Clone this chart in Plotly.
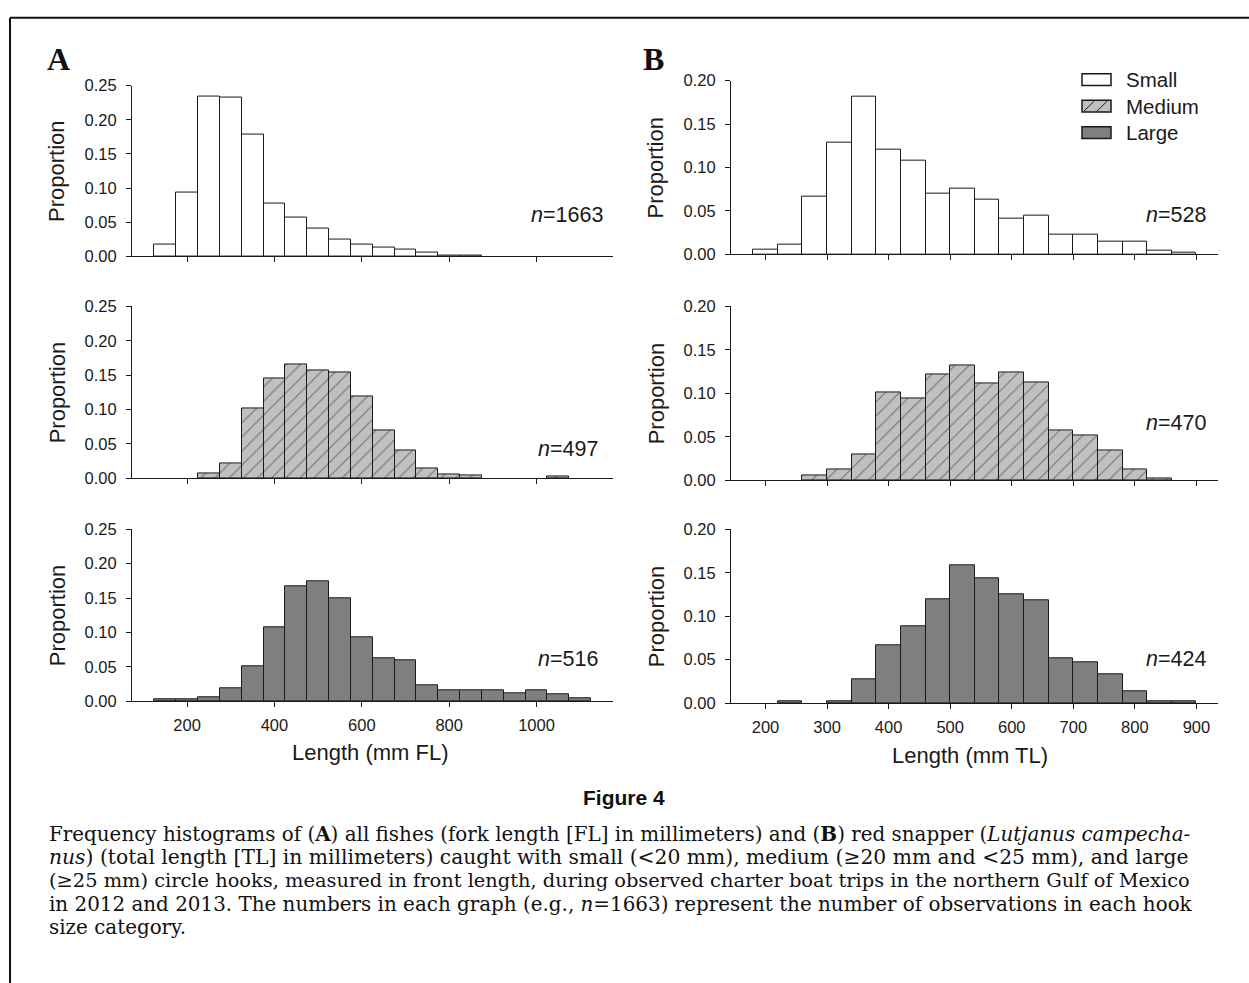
import plotly.graph_objects as go

# ---------------- data ----------------
A_centers = [150, 200, 250, 300, 350, 400, 450, 500, 550, 600,
             650, 700, 750, 800, 850, 900, 950, 1000, 1050, 1100]
A_small = [0.017, 0.093, 0.234, 0.233, 0.179, 0.078, 0.057, 0.040, 0.024, 0.017,
           0.013, 0.0095, 0.0057, 0.0015, 0.001, 0, 0, 0, 0, 0]
A_medium = [0, 0, 0.007, 0.021, 0.102, 0.145, 0.166, 0.157, 0.154, 0.119,
            0.069, 0.041, 0.0147, 0.006, 0.004, 0, 0, 0, 0.002, 0]
A_large = [0.002, 0.002, 0.006, 0.018, 0.050, 0.107, 0.167, 0.174, 0.150, 0.093,
           0.062, 0.060, 0.023, 0.015, 0.015, 0.015, 0.011, 0.015, 0.0095, 0.004]

B_centers = [200, 240, 280, 320, 360, 400, 440, 480, 520, 560,
             600, 640, 680, 720, 760, 800, 840, 880]
B_small = [0.005, 0.011, 0.066, 0.129, 0.182, 0.121, 0.108, 0.070, 0.076, 0.063,
           0.041, 0.045, 0.023, 0.023, 0.015, 0.015, 0.004, 0.002]
B_medium = [0, 0, 0.006, 0.0125, 0.030, 0.101, 0.094, 0.122, 0.132, 0.111,
            0.124, 0.113, 0.057, 0.051, 0.034, 0.0125, 0.002, 0]
B_large = [0, 0.002, 0, 0.002, 0.027, 0.066, 0.088, 0.120, 0.158, 0.144,
           0.125, 0.118, 0.0515, 0.047, 0.033, 0.014, 0.002, 0.002]

A_bin_width = 50
B_bin_width = 40

A_n = ["1663", "497", "516"]
B_n = ["528", "470", "424"]

A_xticks = [200, 400, 600, 800, 1000]
B_xticks = [200, 300, 400, 500, 600, 700, 800, 900]
A_yticks = [0.00, 0.05, 0.10, 0.15, 0.20, 0.25]
B_yticks = [0.00, 0.05, 0.10, 0.15, 0.20]
A_ytick_labels = ["0.00", "0.05", "0.10", "0.15", "0.20", "0.25"]
B_ytick_labels = ["0.00", "0.05", "0.10", "0.15", "0.20"]

legend_names = ["Small", "Medium", "Large"]

# ---------------- layout helpers ----------------
W, H = 1249, 983
def px(x):
    return x / W
def py(y):
    return 1 - y / H

SANS = "Liberation Sans, Arial, sans-serif"
SERIF = "DejaVu Serif, serif"
TXT = "#1a1a1a"

styles = {
    "Small": dict(color="white", line=dict(color="#1a1a1a", width=1)),
    "Medium": dict(color="#c0c0c0", line=dict(color="#1a1a1a", width=1),
                   pattern=dict(shape="/", fgcolor="#1a1a1a", bgcolor="#c0c0c0",
                                size=10, solidity=0.1)),
    "Large": dict(color="#7f7f7f", line=dict(color="#1a1a1a", width=1)),
}

# panel pixel boxes
A_x = (132, 613)
B_x = (731, 1218)
A_rows = [(78, 252), (303, 478), (530, 705)]
B_rows = [(73, 250), (303, 480), (530, 707)]
A_range = [74, 1175]
B_range = [144, 935]

fig = go.Figure()
layout = {}
annotations = []

def ann(text, x, y, size, family=SANS, xanchor="center", yanchor="middle", **kw):
    color = kw.pop("color", TXT)
    annotations.append(dict(text=text, x=px(x), y=py(y), xref="paper", yref="paper",
                            xanchor=xanchor, yanchor=yanchor, showarrow=False,
                            font=dict(family=family, size=size, color=color), **kw))

panels = []
for i, (vals, name) in enumerate(zip([A_small, A_medium, A_large], legend_names)):
    panels.append(("A", i, vals, name))
for i, (vals, name) in enumerate(zip([B_small, B_medium, B_large], legend_names)):
    panels.append(("B", i, vals, name))

for k, (side, row, vals, name) in enumerate(panels):
    idx = k + 1
    xa = "x" if idx == 1 else f"x{idx}"
    ya = "y" if idx == 1 else f"y{idx}"
    if side == "A":
        centers, bw, xdom, (yt, yb), xr = A_centers, A_bin_width, A_x, A_rows[row], A_range
        xt, yticks, ylabels, yr = A_xticks, A_yticks, A_ytick_labels, [0, 0.25]
    else:
        centers, bw, xdom, (yt, yb), xr = B_centers, B_bin_width, B_x, B_rows[row], B_range
        xt, yticks, ylabels, yr = B_xticks, B_yticks, B_ytick_labels, [0, 0.20]
    xs = [c for c, v in zip(centers, vals) if v > 0]
    ys = [v for v in vals if v > 0]
    fig.add_trace(go.Bar(x=xs, y=ys, width=[bw] * len(xs),
                         marker=styles[name], name=name, showlegend=False,
                         xaxis=xa, yaxis=ya))
    xkey = "xaxis" if idx == 1 else f"xaxis{idx}"
    ykey = "yaxis" if idx == 1 else f"yaxis{idx}"
    layout[xkey] = dict(domain=[px(xdom[0]), px(xdom[1])], range=xr, anchor=ya,
                        showline=True, linecolor="#1a1a1a", linewidth=1,
                        ticks="outside", ticklen=5, tickwidth=1, tickcolor="#1a1a1a",
                        tickvals=xt, showticklabels=(row == 2), ticklabelstandoff=4,
                        tickfont=dict(family=SANS, size=16.5, color=TXT),
                        showgrid=False, zeroline=False, fixedrange=True)
    layout[ykey] = dict(domain=[py(yb), py(yt)], range=yr, anchor=xa,
                        showline=True, linecolor="#1a1a1a", linewidth=1,
                        ticks="outside", ticklen=5, tickwidth=1, tickcolor="#1a1a1a",
                        tickvals=yticks, ticktext=ylabels, ticklabelstandoff=6,
                        tickfont=dict(family=SANS, size=16.5, color=TXT),
                        showgrid=False, zeroline=False, fixedrange=True)
    ann("Proportion", xdom[0] - 75, (yt + yb) / 2, 22, textangle=-90)

# n labels
A_n_pos = [(567, 210), (568, 448), (568, 662)]
B_n_pos = [(1176, 210), (1176, 422), (1176, 662)]
for lab, (x, y) in zip(A_n + B_n, A_n_pos + B_n_pos):
    ann(f"<i>n</i>={lab}", x, y, 21.5)

# panel letters
for lab, x in [("A", 58), ("B", 653)]:
    ann(f"<b>{lab}</b>", x, 51, 32, family="Liberation Serif, serif", color="#111")

# x titles
ann("Length (mm FL)", 370, 757, 22)
ann("Length (mm TL)", 970, 760, 22)

# legend (manual)
shapes = []
leg_rows = [(66, 78), (93, 105), (120, 132)]
for name, (y0, y1) in zip(legend_names, leg_rows):
    shapes.append(dict(type="rect", xref="paper", yref="paper", x0=px(1082), x1=px(1111),
                       y0=py(y1), y1=py(y0), fillcolor=styles[name]["color"],
                       line=dict(color="#1a1a1a", width=1.5)))
    ann(name, 1124, (y0 + y1) / 2, 20.5, xanchor="left")
for (x0, y0, x1, y1) in [(1084, 104, 1094, 94), (1097, 104, 1107, 94)]:
    shapes.append(dict(type="line", xref="paper", yref="paper", x0=px(x0), y0=py(y0),
                       x1=px(x1), y1=py(y1), line=dict(color="#1a1a1a", width=1)))

# frame (top and left edges of the page border)
shapes.append(dict(type="line", xref="paper", yref="paper", x0=px(10), y0=py(9), x1=px(W + 10), y1=py(9),
                   line=dict(color="#111", width=2)))
shapes.append(dict(type="line", xref="paper", yref="paper", x0=px(10), y0=py(9), x1=px(10), y1=py(H + 10),
                   line=dict(color="#111", width=2)))

# figure caption
ann("<b>Figure 4</b>", 624, 803, 21, color="#111")
caption_lines = [
    "Frequency histograms of (<b>A</b>) all fishes (fork length [FL] in millimeters) and (<b>B</b>) red snapper (<i>Lutjanus campecha-</i>",
    "<i>nus</i>) (total length [TL] in millimeters) caught with small (&lt;20 mm), medium (≥20 mm and &lt;25 mm), and large",
    "(≥25 mm) circle hooks, measured in front length, during observed charter boat trips in the northern Gulf of Mexico",
    "in 2012 and 2013. The numbers in each graph (e.g., <i>n</i>=1663) represent the number of observations in each hook",
    "size category.",
]
caption_sizes = [19.9, 20.3, 19.4, 19.9, 19.9]
for i, (line, sz) in enumerate(zip(caption_lines, caption_sizes)):
    ann(line, 47, 840 + 24 * i, sz, family=SERIF, xanchor="left", color="#111")

fig.update_layout(**layout)
fig.update_layout(width=W, height=H, margin=dict(l=0, r=0, t=0, b=0),
                  paper_bgcolor="white", plot_bgcolor="white",
                  bargap=0, barmode="overlay", showlegend=False,
                  annotations=annotations, shapes=shapes)

post = ("document.documentElement.style.margin='0';document.body.style.margin='0';"
        "var gd=document.getElementById('{plot_id}');"
        "if(gd&&gd.parentElement){gd.parentElement.style.position='absolute';"
        "gd.parentElement.style.top='0px';gd.parentElement.style.left='0px';}")
fig.write_html("out.html", config={"displayModeBar": False}, post_script=post)
